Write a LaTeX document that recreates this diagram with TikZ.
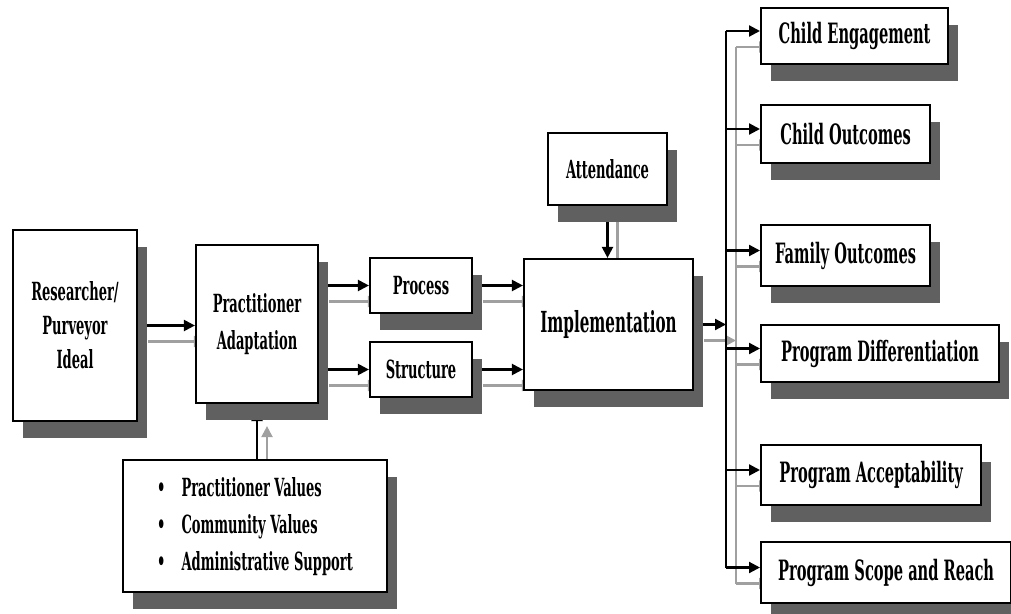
\documentclass[tikz,border=0pt]{standalone}
\usepackage{fontspec}
\setmainfont{DejaVu Serif Condensed Bold}[FakeStretch=0.58]
\usetikzlibrary{arrows.meta,shadows}
\definecolor{shadowgray}{RGB}{96,96,96}
\definecolor{linkgray}{RGB}{160,160,160}
\pgfdeclarelayer{linkshade}
\pgfdeclarelayer{linkfront}
\pgfsetlayers{linkshade,linkfront,main}
\tikzset{
  blk/.style={draw, line width=2.2pt, fill=white, inner sep=2pt, align=center,
    drop shadow={shadow xshift=10pt, shadow yshift=-17pt, fill=shadowgray, opacity=1},
    font=\fontsize{25}{34}\selectfont},
  outc/.style={blk, anchor=west, font=\fontsize{28}{30}\selectfont},
  link/.style={line width=2.2pt, -{Triangle[length=11pt,width=11pt]}},
  linkshadow/.style={link, draw=linkgray, transform canvas={shift={(10pt,-16pt)}}}
}
% connector with its grey shadow behind it
\newcommand{\flow}[2][]{\begin{pgfonlayer}{linkshade}\draw[linkshadow,#1] #2;\end{pgfonlayer}%
  \begin{pgfonlayer}{linkfront}\draw[link,#1] #2;\end{pgfonlayer}}

\begin{document}
\begin{tikzpicture}[x=1pt,y=-1pt]
  \useasboundingbox (0,0) rectangle (1011,613);
  % left chain
  \node[blk, minimum width=124pt, minimum height=191pt] (res) at (75,325.5) {Researcher/\\Purveyor\\Ideal};
  \node[blk, minimum width=122pt, minimum height=158pt, font=\fontsize{25}{37}\selectfont] (prac) at (257,324) {Practitioner\\Adaptation};
  \node[blk, minimum width=102pt, minimum height=55pt] (proc) at (421,285.5) {Process};
  \node[blk, minimum width=102pt, minimum height=55pt] (struc) at (421,369.5) {Structure};
  \node[blk, minimum width=169pt, minimum height=131pt, font=\fontsize{29}{32}\selectfont] (impl) at (608.5,324.5) {Implementation};
  \node[blk, minimum width=119pt, minimum height=72pt] (att) at (607.5,169) {Attendance};
  \node[blk, minimum width=264pt, minimum height=132pt, font=\fontsize{25}{37}\selectfont] (fac) at (255,526)
    {\begin{tabular}{@{}l@{\hspace{16pt}}l@{}}
      \textbullet & Practitioner Values\\
      \textbullet & Community Values\\
      \textbullet & Administrative Support
    \end{tabular}};
  % outcomes
  \node[outc, minimum width=187pt, minimum height=56pt] (ce) at (760,36) {Child Engagement};
  \node[outc, minimum width=169pt, minimum height=58pt] (co) at (760,134) {Child Outcomes};
  \node[outc, minimum width=169pt, minimum height=61pt] (fo) at (760,255.5) {Family Outcomes};
  \node[outc, minimum width=238pt, minimum height=57pt] (pd) at (760,353.5) {Program Differentiation};
  \node[outc, minimum width=220pt, minimum height=60pt] (pa) at (760,475) {Program Acceptability};
  \node[outc, minimum width=250pt, minimum height=61pt] (psr) at (760,572.5) {Program Scope and Reach};
  \coordinate (bus) at (726,323);

  \flow{(res.east) -- (res.east -| prac.west)}
  \flow{(prac.east |- proc) -- (proc.west)}
  \flow{(prac.east |- struc) -- (struc.west)}
  \flow{(proc.east) -- (proc.east -| impl.west)}
  \flow{(struc.east) -- (struc.east -| impl.west)}
  \flow{(att.south) -- (att.south |- impl.north)}
  \flow{(prac.south |- fac.north) -- ([yshift=-6pt]prac.south)}
  \flow{(impl.east) -- (impl.east -| bus)}
  \flow[-]{([yshift=5pt]ce.west -| bus) -- ([yshift=5pt]psr.west -| bus)}
  \foreach \t in {ce,co,fo,pd,pa,psr}
    {\flow{([yshift=5pt]\t.west -| bus) -- ([yshift=5pt]\t.west)}}
\end{tikzpicture}
\end{document}
